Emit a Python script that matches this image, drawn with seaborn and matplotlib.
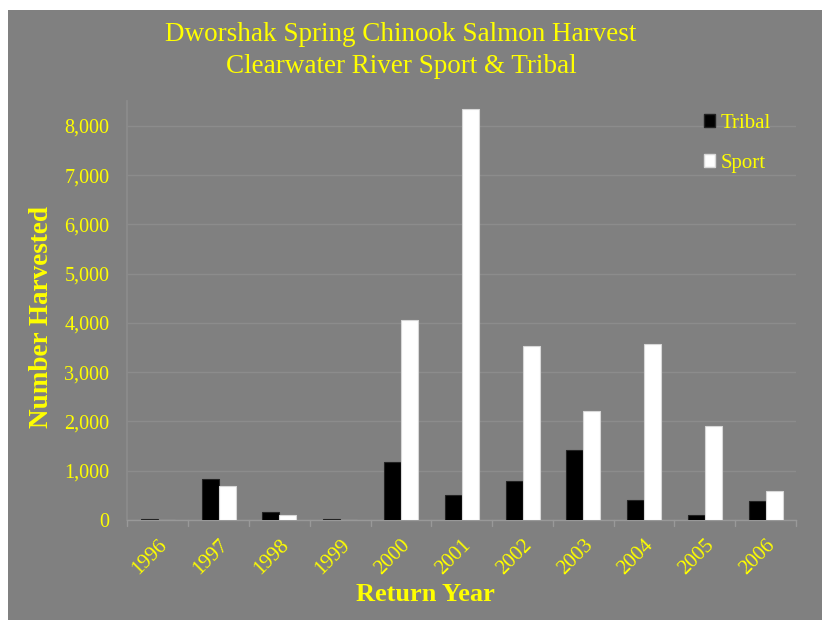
import matplotlib
matplotlib.use("Agg")
import matplotlib.pyplot as plt
from matplotlib.patches import Rectangle, Patch
from matplotlib.ticker import FuncFormatter
import seaborn as sns
import pandas as pd

years = ["1996", "1997", "1998", "1999", "2000", "2001",
         "2002", "2003", "2004", "2005", "2006"]
tribal = [28, 826, 162, 27, 1170, 513, 791, 1413, 406, 95, 379]
sport = [0, 690, 95, 0, 4057, 8337, 3535, 2217, 3570, 1900, 582]
series = ["Tribal", "Sport"]

df = pd.DataFrame({
    "Return Year": years * 2,
    "Harvest": tribal + sport,
    "Type": [series[0]] * len(years) + [series[1]] * len(years),
})

sns.set_theme(style="white")
plt.rcParams["font.family"] = ["Liberation Serif", "DejaVu Serif"]

BG = "#808080"
YELLOW = "#ffff00"
GRID = "#8c8c8c"

fig = plt.figure(figsize=(8.22, 6.2), dpi=100, facecolor="white")
fig.patches.append(Rectangle((8 / 822, 0), 1, 1 - 10 / 620,
                             transform=fig.transFigure, facecolor=BG,
                             edgecolor="none", zorder=-10))
ax = fig.add_axes([0.1551, 0.1613, 0.8133, 0.6752])
ax.set_facecolor(BG)

sns.barplot(data=df, x="Return Year", y="Harvest", hue="Type",
            palette={"Tribal": "black", "Sport": "white"},
            width=0.56, linewidth=0.8, ax=ax, legend=False, zorder=3)

for bar in ax.patches:
    fc = bar.get_facecolor()
    bar.set_edgecolor("#222222" if fc[0] < 0.5 else "#d8d8d8")

ax.set_ylim(0, 8500)
ax.set_xlim(-0.5, len(years) - 0.5)
ax.set_yticks(range(0, 8001, 1000))
ax.yaxis.set_major_formatter(FuncFormatter(lambda v, p: f"{int(v):,}"))
ax.yaxis.grid(True, color=GRID, linewidth=1.0, zorder=0)
ax.set_axisbelow(True)

for s in ["top", "right"]:
    ax.spines[s].set_visible(False)
ax.spines["left"].set_color(GRID)
ax.spines["bottom"].set_color("#999999")
ax.spines["bottom"].set_linewidth(1.0)

ax.tick_params(axis="y", colors=YELLOW, labelsize=14.5, length=0, pad=13)
ax.tick_params(axis="x", colors=YELLOW, labelsize=15, length=0, pad=11)
for lab in ax.get_xticklabels():
    lab.set_rotation(45)
    lab.set_ha("right")
    lab.set_va("top")
    lab.set_rotation_mode("anchor")

# category separators below the baseline
for i in range(len(years) + 1):
    ax.plot([i - 0.5, i - 0.5], [0, -120], color="#999999", lw=1.0,
            clip_on=False, zorder=2)

ax.set_xlabel("Return Year", color=YELLOW, fontsize=19, fontweight="bold")
ax.set_ylabel("Number Harvested", color=YELLOW, fontsize=19.5,
              fontweight="bold")
ax.xaxis.set_label_coords(0.4455, -0.178)
ax.yaxis.set_label_coords(-0.128, 0.484)
ax.xaxis.label.set_va("center")
ax.yaxis.label.set_va("center")

handles = [Patch(facecolor="black", edgecolor="#222222"),
           Patch(facecolor="white", edgecolor="#d8d8d8")]
leg = ax.legend(handles, series, loc="upper right", frameon=False,
                bbox_to_anchor=(0.99, 1.015), fontsize=15,
                labelcolor=YELLOW, handlelength=0.55, handleheight=0.55,
                handletextpad=0.25, labelspacing=1.0)

fig.text(0.488, 0.945, "Dworshak Spring Chinook Salmon Harvest",
         color=YELLOW, fontsize=19.5, ha="center", va="center")
fig.text(0.488, 0.892, "Clearwater River Sport & Tribal",
         color=YELLOW, fontsize=19.5, ha="center", va="center")

fig.savefig("out.png", dpi=100, facecolor=fig.get_facecolor())
